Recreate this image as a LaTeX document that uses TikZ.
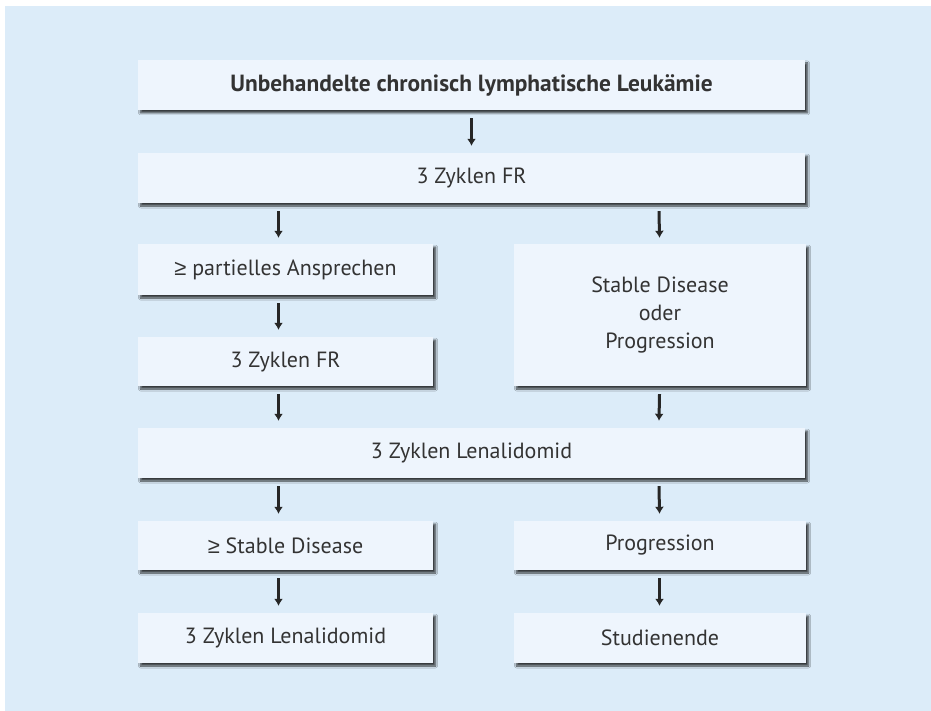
\documentclass[tikz,border=0pt]{standalone}
\usepackage{fontspec}
\setmainfont{PT Sans}
\newfontfamily\symfont{Liberation Sans}
\usetikzlibrary{arrows.meta,shadows.blur}
\definecolor{bgblue}{HTML}{DCECF9}
\definecolor{boxfill}{HTML}{EEF5FD}
\definecolor{textcol}{HTML}{333333}
\newcommand{\gesym}{{\symfont ≥}}
\tikzset{
  box/.style={fill=boxfill, draw=none, inner sep=0pt, text=textcol,
    font=\fontsize{22}{28}\selectfont, align=center,
    blur shadow={shadow xshift=2.5pt, shadow yshift=-3pt, shadow blur steps=6,
      shadow blur radius=2pt, shadow opacity=75, shadow blur extra rounding=0pt}},
  arr/.style={-{Latex[length=7pt,width=9pt]}, line width=3pt, draw=black!85}
}
\begin{document}
\begin{tikzpicture}[x=1pt,y=-1pt]
\fill[white] (0,0) rectangle (931,711);
\fill[bgblue] (5,6) rectangle (931,711);
\useasboundingbox (0,0) rectangle (931,711);
\node[box, minimum width=667pt, minimum height=50pt, font=\fontsize{23.4}{28}\selectfont\bfseries] (n1) at (471.5,85) {Unbehandelte chronisch lymphatische Leukämie};
\node[box, minimum width=667pt, minimum height=50pt] (n2) at (471.5,178) {3 Zyklen FR};
\node[box, minimum width=295pt, minimum height=51pt] (n3) at (285.5,269.5) {\gesym{} partielles Ansprechen};
\node[box, minimum width=295pt, minimum height=49pt] (n4) at (285.5,361.5) {3 Zyklen FR};
\node[box, minimum width=292pt, minimum height=142pt] (n5) at (660,315) {Stable Disease\\oder\\Progression};
\node[box, minimum width=667pt, minimum height=50pt] (n6) at (471.5,453) {3 Zyklen Lenalidomid};
\node[box, minimum width=295pt, minimum height=49pt] (n7) at (285.5,545.5) {\gesym{} Stable Disease};
\node[box, minimum width=295pt, minimum height=50pt] (n8) at (285.5,638) {3 Zyklen Lenalidomid};
\node[box, minimum width=292pt, minimum height=49pt] (n9) at (660,545.5) {Progression};
\node[box, minimum width=292pt, minimum height=50pt] (n10) at (660,638) {Studienende};
\draw[arr] ([yshift=-8pt]n1.south) -- ([yshift=7pt]n2.north);
\draw[arr] ([xshift=-193pt,yshift=-8pt]n2.south) -- ([xshift=-7pt,yshift=6pt]n3.north);
\draw[arr] ([xshift=187.5pt,yshift=-8pt]n2.south) -- ([xshift=-0.5pt,yshift=6pt]n5.north);
\draw[arr] ([xshift=-7pt,yshift=-8pt]n3.south) -- ([xshift=-7pt,yshift=7pt]n4.north);
\draw[arr] ([xshift=-7pt,yshift=-8pt]n4.south) -- ([xshift=-193pt,yshift=7pt]n6.north);
\draw[arr] ([xshift=-0.5pt,yshift=-8pt]n5.south) -- ([xshift=187.5pt,yshift=7pt]n6.north);
\draw[arr] ([xshift=-193pt,yshift=-8pt]n6.south) -- ([xshift=-7pt,yshift=7pt]n7.north);
\draw[arr] ([xshift=187.5pt,yshift=-8pt]n6.south) -- ([xshift=-0.5pt,yshift=7pt]n9.north);
\draw[arr] ([xshift=-7pt,yshift=-8pt]n7.south) -- ([xshift=-7pt,yshift=7pt]n8.north);
\draw[arr] ([xshift=-0.5pt,yshift=-8pt]n9.south) -- ([xshift=-0.5pt,yshift=7pt]n10.north);
\end{tikzpicture}
\end{document}
